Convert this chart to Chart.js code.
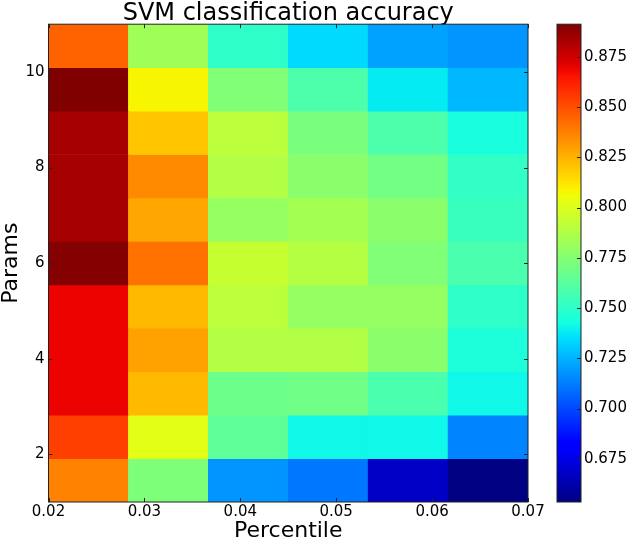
<!DOCTYPE html>
<html>
<head>
<meta charset="utf-8">
<script src="https://cdn.jsdelivr.net/npm/chart.js@4"></script>
<style>
  body { margin: 0; background: #fff; }
  #grafico { display: block; }
</style>
</head>
<body>
<canvas id="grafico" width="630" height="543"></canvas>
<script>
// valores (linha de cima primeiro, params 11 -> 1)
const percentis = [0.02, 0.03, 0.04, 0.05, 0.06, 0.07];
const paramTicks = [2, 4, 6, 8, 10];
const corTicks = [0.675, 0.700, 0.725, 0.750, 0.775, 0.800, 0.825, 0.850, 0.875];
const extent = [0.02, 0.07, 1, 11]; // xmin, xmax, ymin, ymax da imagem
const faixaCor = [0.6535, 0.8912];  // vmin, vmax do colorbar

const acuracia = [
  [0.845, 0.783, 0.750, 0.734, 0.721, 0.718],
  [0.891, 0.808, 0.774, 0.759, 0.738, 0.726],
  [0.883, 0.820, 0.791, 0.772, 0.759, 0.744],
  [0.883, 0.835, 0.788, 0.777, 0.770, 0.751],
  [0.883, 0.828, 0.780, 0.784, 0.777, 0.753],
  [0.890, 0.841, 0.794, 0.789, 0.774, 0.758],
  [0.869, 0.823, 0.791, 0.780, 0.780, 0.750],
  [0.869, 0.829, 0.788, 0.788, 0.777, 0.745],
  [0.869, 0.823, 0.768, 0.769, 0.758, 0.741],
  [0.854, 0.802, 0.764, 0.741, 0.741, 0.714],
  [0.837, 0.773, 0.718, 0.711, 0.668, 0.654]
];

const FONTE = "'DejaVu Sans', sans-serif";

// colormap jet do matplotlib
function interp(pts, t) {
  for (let i = 1; i < pts.length; i++) {
    if (t <= pts[i][0]) {
      const [x0, y0] = pts[i - 1], [x1, y1] = pts[i];
      return y0 + (y1 - y0) * (t - x0) / (x1 - x0);
    }
  }
  return pts[pts.length - 1][1];
}
function jet(t) {
  t = Math.max(0, Math.min(1, t));
  const r = interp([[0, 0], [0.35, 0], [0.66, 1], [0.89, 1], [1, 0.5]], t);
  const g = interp([[0, 0], [0.125, 0], [0.375, 1], [0.64, 1], [0.91, 0], [1, 0]], t);
  const b = interp([[0, 0.5], [0.11, 1], [0.34, 1], [0.65, 0], [1, 0]], t);
  return `rgb(${Math.round(r * 255)},${Math.round(g * 255)},${Math.round(b * 255)})`;
}
const corDe = v => jet((v - faixaCor[0]) / (faixaCor[1] - faixaCor[0]));

// uma série de barras flutuantes por linha da imagem
const nLin = acuracia.length, nCol = percentis.length;
const larguraCol = (extent[1] - extent[0]) / nCol;
const alturaLin = (extent[3] - extent[2]) / nLin;

const datasets = acuracia.map((linha, i) => {
  const topo = extent[3] - i * alturaLin;
  return {
    data: linha.map((_, j) => ({
      x: extent[0] + (j + 0.5) * larguraCol,
      y: [topo - alturaLin, topo]
    })),
    backgroundColor: linha.map(corDe),
    borderWidth: 0,
    grouped: false,
    barPercentage: 1,
    categoryPercentage: 1
  };
});

// moldura, marcas internas e colorbar
const molduraPlugin = {
  id: 'moldura',
  afterDatasetsDraw(chart) {
    const { ctx, chartArea: a, scales } = chart;
    ctx.save();
    ctx.strokeStyle = '#222';
    ctx.lineWidth = 1;
    ctx.beginPath();
    scales.x.ticks.forEach(t => {
      const px = Math.round(scales.x.getPixelForValue(t.value)) + 0.5;
      ctx.moveTo(px, a.bottom); ctx.lineTo(px, a.bottom - 4);
      ctx.moveTo(px, a.top); ctx.lineTo(px, a.top + 4);
    });
    scales.y.ticks.forEach(t => {
      const py = Math.round(scales.y.getPixelForValue(t.value)) + 0.5;
      ctx.moveTo(a.left, py); ctx.lineTo(a.left + 4, py);
      ctx.moveTo(a.right, py); ctx.lineTo(a.right - 4, py);
    });
    ctx.stroke();
    ctx.strokeRect(a.left, a.top, a.right - a.left, a.bottom - a.top);

    // colorbar
    const cb = scales.cb;
    const x0 = cb.left + 29, w = 24;
    const yTop = cb.getPixelForValue(faixaCor[1]);
    const yBot = cb.getPixelForValue(faixaCor[0]);
    const grad = ctx.createLinearGradient(0, yBot, 0, yTop);
    for (let k = 0; k <= 64; k++) grad.addColorStop(k / 64, jet(k / 64));
    ctx.fillStyle = grad;
    ctx.fillRect(x0, yTop, w, yBot - yTop);
    ctx.beginPath();
    cb.ticks.forEach(t => {
      const py = Math.round(cb.getPixelForValue(t.value)) + 0.5;
      ctx.moveTo(x0 + w, py); ctx.lineTo(x0 + w - 4, py);
    });
    ctx.stroke();
    ctx.strokeRect(x0, yTop, w, yBot - yTop);
    ctx.restore();
  }
};

const fonteTick = { family: FONTE, size: 15 };
const semGrade = { display: false, drawTicks: false, offset: false };

new Chart(document.getElementById('grafico').getContext('2d'), {
  type: 'bar',
  data: { datasets },
  options: {
    responsive: false,
    animation: false,
    layout: { padding: 0 },
    plugins: {
      legend: { display: false },
      tooltip: { enabled: false },
      title: {
        display: true,
        fullSize: false,
        text: 'SVM classification accuracy',
        color: '#000',
        font: { family: FONTE, size: 24, weight: 'normal', lineHeight: 0.8 },
        padding: { top: 4, bottom: 1 }
      }
    },
    scales: {
      x: {
        type: 'linear',
        min: extent[0],
        max: extent[1],
        offset: false,
        grid: semGrade,
        border: { display: false },
        afterBuildTicks: s => { s.ticks = percentis.map(v => ({ value: v })); },
        afterFit: s => { s.height = 41; },
        ticks: {
          color: '#000', font: fonteTick, padding: 1,
          maxRotation: 0, autoSkip: false,
          callback: v => v.toFixed(2)
        },
        title: {
          display: true, text: 'Percentile', color: '#000',
          font: { family: FONTE, size: 22, lineHeight: 1 },
          padding: { top: 0, bottom: 1 }
        }
      },
      y: {
        type: 'linear',
        min: extent[2],
        max: extent[3],
        grid: semGrade,
        border: { display: false },
        afterBuildTicks: s => { s.ticks = paramTicks.map(v => ({ value: v })); },
        afterFit: s => { s.width = 48.5; },
        ticks: { color: '#000', font: fonteTick, padding: 4 },
        title: {
          display: true, text: 'Params', color: '#000',
          font: { family: FONTE, size: 22, lineHeight: 1 },
          padding: { top: 0, bottom: 0 }
        }
      },
      cb: {
        type: 'linear',
        position: 'right',
        min: faixaCor[0],
        max: faixaCor[1],
        grid: semGrade,
        border: { display: false },
        afterBuildTicks: s => { s.ticks = corTicks.map(v => ({ value: v })); },
        afterFit: s => { s.width = 102; s.paddingTop = 0; s.paddingBottom = 0; },
        ticks: { color: '#000', font: fonteTick, padding: 56, callback: v => v.toFixed(3) }
      }
    }
  },
  plugins: [molduraPlugin]
});
</script>
</body>
</html>
